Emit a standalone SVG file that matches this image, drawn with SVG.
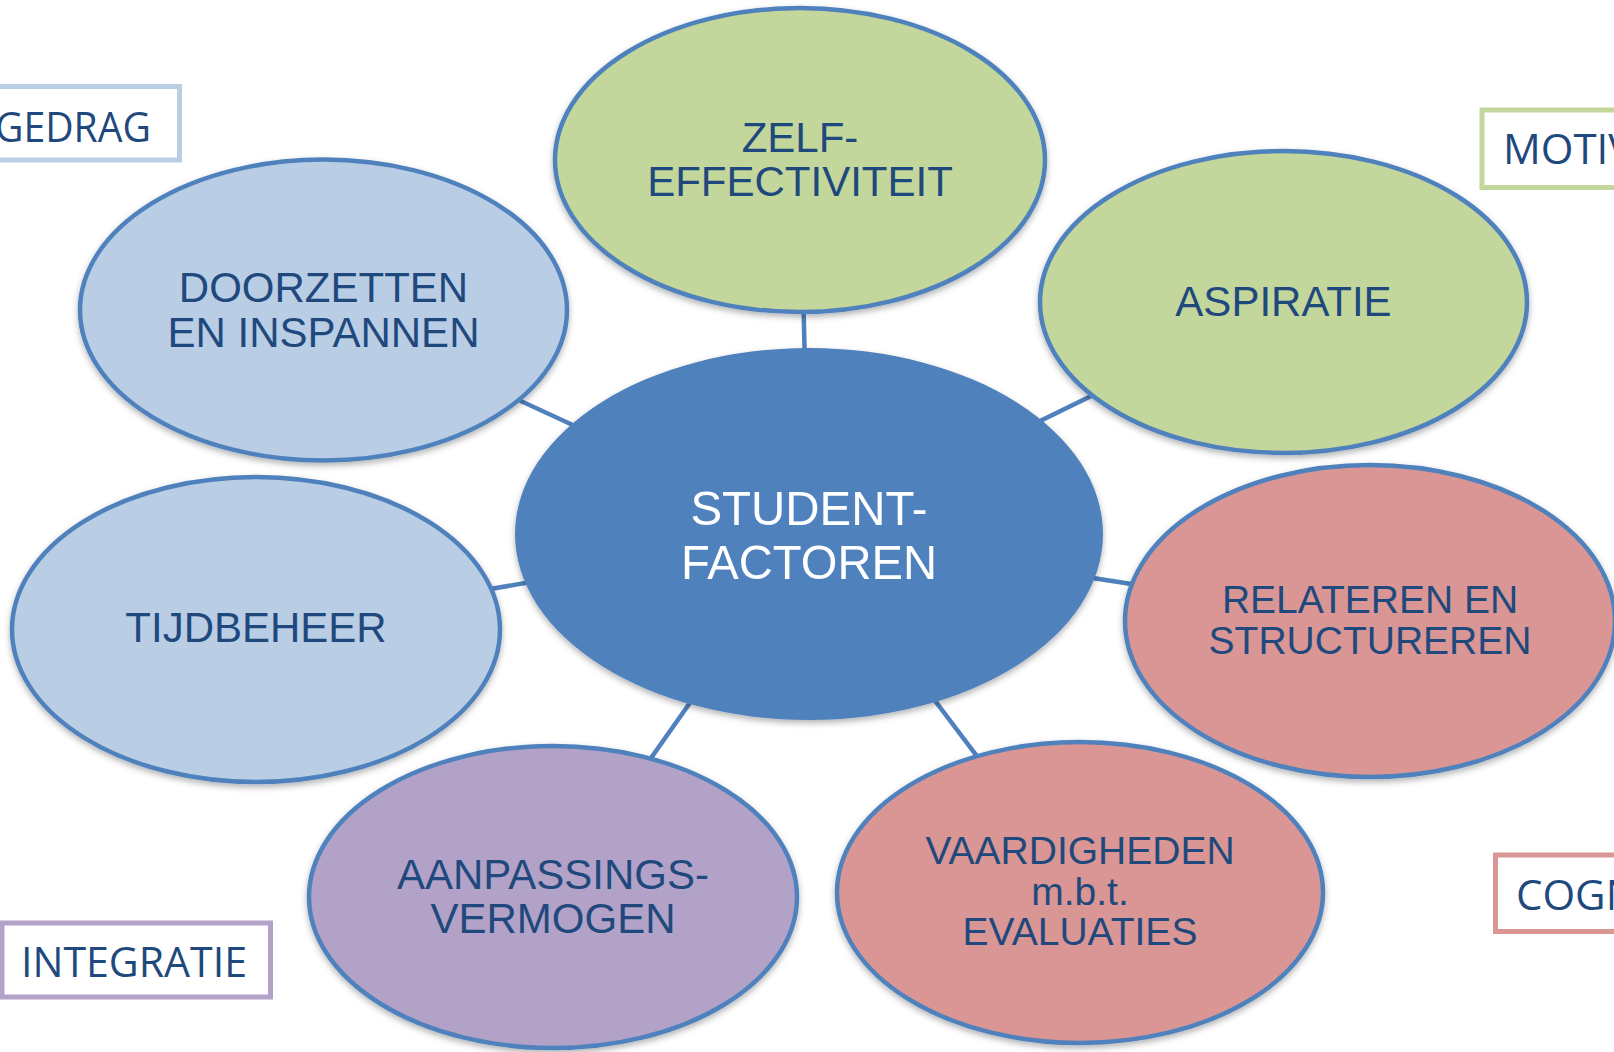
<svg xmlns="http://www.w3.org/2000/svg" width="1614" height="1052" viewBox="0 0 1614 1052">
<defs>
<style>
.conn{stroke:#4F81BD;stroke-width:4.5;fill:none}
.el{stroke:#4F81BD;stroke-width:4.5;filter:url(#sh)}
.blue{fill:#B9CDE5}.green{fill:#C3D69B}.pink{fill:#D99694}.purple{fill:#B3A2C7}.core{fill:#4F81BD}
.t{font-family:"Liberation Sans",Arial,sans-serif;font-size:42px;fill:#1F497D;text-anchor:middle}
.ts{font-size:39px}
.tc{font-family:"Liberation Sans",Arial,sans-serif;font-size:49px;fill:#FFFFFF;text-anchor:middle}
.box{fill:#FFFFFF;stroke-width:5}
.lbl{font-family:"Open Sans","Liberation Sans",sans-serif;font-size:42px;fill:#1F497D}
</style>
<filter id="sh" x="-10%" y="-10%" width="120%" height="125%">
<feDropShadow dx="0" dy="3" stdDeviation="3" flood-color="#000000" flood-opacity="0.3"/>
</filter>
</defs>
<rect width="1614" height="1052" fill="#FFFFFF"/>
<g id="connectors">
<line class="conn" x1="809" y1="534" x2="800" y2="160"/>
<line class="conn" x1="809" y1="534" x2="1283.5" y2="302"/>
<line class="conn" x1="809" y1="534" x2="323.5" y2="310"/>
<line class="conn" x1="809" y1="534" x2="256" y2="629.5"/>
<line class="conn" x1="809" y1="534" x2="1370" y2="621"/>
<line class="conn" x1="809" y1="534" x2="553" y2="897"/>
<line class="conn" x1="809" y1="534" x2="1080" y2="892.5"/>
</g>
<g id="label-gedrag">
<rect class="box" x="-10" y="86.5" width="189.5" height="73.5" stroke="#B9CDE5"/>
<text class="lbl" x="-5" y="142" textLength="156" lengthAdjust="spacingAndGlyphs">GEDRAG</text>
</g>
<g id="label-motivatie">
<rect class="box" x="1482" y="110" width="200" height="77.5" stroke="#C3D69B"/>
<text class="lbl" x="1503" y="164">MOTIVATIE</text>
</g>
<g id="label-cognitie">
<rect class="box" x="1495.5" y="855" width="200" height="76.5" stroke="#D99694"/>
<text class="lbl" x="1516" y="910">COGNITIE</text>
</g>
<g id="label-integratie">
<rect class="box" x="2" y="923" width="268.5" height="74" stroke="#B3A2C7"/>
<text class="lbl" x="21" y="977" textLength="226" lengthAdjust="spacingAndGlyphs">INTEGRATIE</text>
</g>
<g id="node-zelf">
<ellipse class="el green" cx="800" cy="160" rx="245" ry="152"/>
<text class="t" x="800" y="152">ZELF-</text>
<text class="t" x="800" y="196">EFFECTIVITEIT</text>
</g>
<g id="node-aspiratie">
<ellipse class="el green" cx="1283.5" cy="302" rx="243.5" ry="151"/>
<text class="t" x="1283.5" y="316">ASPIRATIE</text>
</g>
<g id="node-doorzetten">
<ellipse class="el blue" cx="323.5" cy="310" rx="243.5" ry="150.5"/>
<text class="t" x="323.5" y="302">DOORZETTEN</text>
<text class="t" x="323.5" y="347">EN INSPANNEN</text>
</g>
<g id="node-tijdbeheer">
<ellipse class="el blue" cx="256" cy="629.5" rx="244" ry="152.5"/>
<text class="t" x="256" y="642">TIJDBEHEER</text>
</g>
<g id="node-relateren">
<ellipse class="el pink" cx="1370" cy="621" rx="245" ry="156"/>
<text class="t ts" x="1370" y="613">RELATEREN EN</text>
<text class="t ts" x="1370" y="654">STRUCTUREREN</text>
</g>
<g id="node-aanpassing">
<ellipse class="el purple" cx="553" cy="897" rx="244" ry="151"/>
<text class="t" x="553" y="889">AANPASSINGS-</text>
<text class="t" x="553" y="933">VERMOGEN</text>
</g>
<g id="node-vaardigheden">
<ellipse class="el pink" cx="1080" cy="892.5" rx="243" ry="150.5"/>
<text class="t ts" x="1080" y="864">VAARDIGHEDEN</text>
<text class="t ts" x="1080" y="905">m.b.t.</text>
<text class="t ts" x="1080" y="945">EVALUATIES</text>
</g>
<g id="node-center">
<ellipse class="core" cx="809" cy="534" rx="294" ry="186" filter="url(#sh)"/>
<text class="tc" x="809" y="525" textLength="237" lengthAdjust="spacingAndGlyphs">STUDENT-</text>
<text class="tc" x="809" y="579" textLength="256" lengthAdjust="spacingAndGlyphs">FACTOREN</text>
</g>
</svg>
